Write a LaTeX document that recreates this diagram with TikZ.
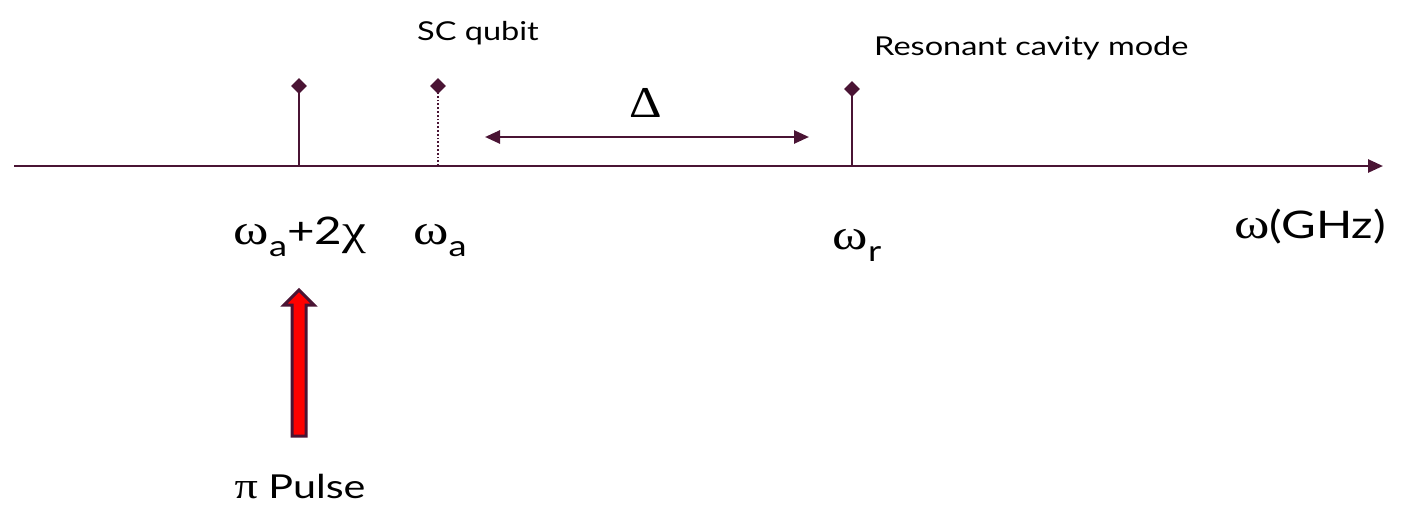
\documentclass[tikz,border=0pt]{standalone}
\usepackage{fontspec}
\setmainfont{Lato}
\newfontfamily\grk{Liberation Serif}
\usetikzlibrary{arrows.meta}
\definecolor{maroon}{RGB}{74,20,52}
\tikzset{
  ax/.style={draw=maroon, line width=2.6pt},
  stem/.style={draw=maroon, line width=2.8pt},
  dotstem/.style={draw=maroon, line width=1.8pt, dotted},
  dmd/.style={fill=maroon, inner sep=0pt, minimum size=11pt, rotate=45, draw=none},
  lbl/.style={inner sep=0pt, font=\fontsize{33}{38}\selectfont},
  biglbl/.style={inner sep=0pt, font=\fontsize{38}{42}\selectfont},
  small/.style={inner sep=0pt, font=\fontsize{26}{30}\selectfont},
}
\newcommand{\hs}[1]{\scalebox{1.25}[1]{#1}}
\newcommand{\gk}[1]{{\grk\fontsize{37}{40}\selectfont #1}}
\newcommand{\bgk}[1]{{\grk\fontsize{43}{46}\selectfont #1}}
\newcommand{\sbs}[1]{\raisebox{-0.32em}{\fontsize{29}{31}\selectfont #1}}
\begin{document}
\begin{tikzpicture}[x=1pt,y=-1pt]
\useasboundingbox (0,0) rectangle (1402,504);
% axis
\coordinate (a0) at (14,166);
\coordinate (a1) at (1383,166);
\draw[ax, -{Triangle[length=15pt,width=13pt]}] (a0) -- (a1);
% stems
\node[dmd] (d1) at (299,86) {};
\node[dmd] (d2) at (438,86) {};
\node[dmd] (d3) at (852,89) {};
\coordinate (b1) at (299,166);
\coordinate (b2) at (438,166);
\coordinate (b3) at (852,166);
\draw[stem] (b1) -- (d1.center);
\draw[dotstem] (b2) -- (d2.center);
\draw[stem] (b3) -- (d3.center);
% Delta arrow
\coordinate (l1) at (485,137);
\coordinate (l2) at (809,137);
\draw[ax, {Triangle[length=15pt,width=13pt]}-{Triangle[length=15pt,width=13pt]}] (l1) -- (l2);
\node[inner sep=0pt, anchor=base] (delta) at (646,117) {\scalebox{1.15}[1]{\grk\fontsize{44}{46}\selectfont Δ}};
% top labels
\node[small, anchor=base] (sc) at (478,40) {\hs{SC qubit}};
\node[small, anchor=base west] (rc) at (874,55) {\hs{Resonant cavity mode}};
% axis labels
\node[biglbl, anchor=base] (w1) at (300,244) {\hs{\bgk{ω}\sbs{a}+2\bgk{χ}}};
\node[biglbl, anchor=base] (w2) at (440,244) {\hs{\bgk{ω}\sbs{a}}};
\node[biglbl, anchor=base] (w3) at (857,249) {\hs{\bgk{ω}\sbs{r}}};
\node[biglbl, anchor=base] (w4) at (1310,238) {\hs{\bgk{ω}(GHz)}};
% pi pulse block arrow
\draw[fill=red, draw=maroon, line width=3pt, line join=miter]
  (292,436) -- (292,305) -- (284,305) -- (299,290) -- (314,305) -- (306,305) -- (306,436) -- cycle;
\node[lbl, anchor=base] (pp) at (300,498) {\hs{\gk{π} Pulse}};
\end{tikzpicture}
\end{document}
